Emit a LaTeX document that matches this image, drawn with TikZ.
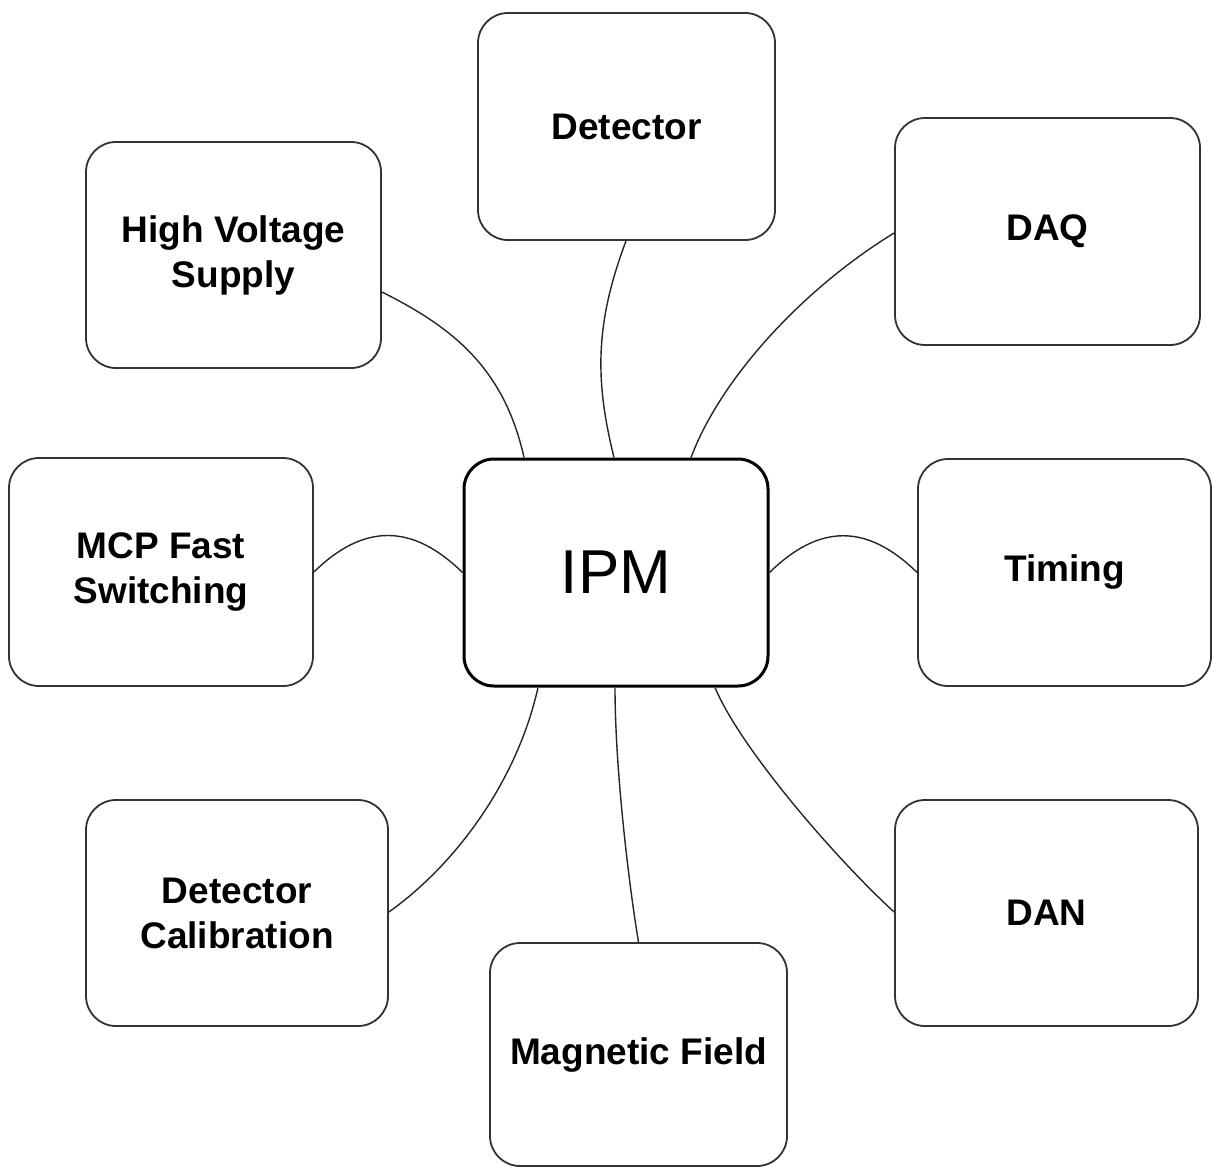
\documentclass[tikz,border=0pt]{standalone}
\usepackage{fontspec}
\setmainfont{Liberation Sans}
\begin{document}
\begin{tikzpicture}[x=1pt,y=-1pt,
  blk/.style={draw=black!80, line width=1.8pt, rounded corners=30pt, inner sep=0pt,
    align=center, fill=white, font=\bfseries\fontsize{37}{45}\selectfont},
  hub/.style={blk, draw=black, line width=3pt, font=\fontsize{62}{70}\selectfont},
  link/.style={draw=black!85, line width=1.4pt}]
\fill[white] (0,0) rectangle (1212,1167);
\useasboundingbox (0,0) rectangle (1212,1167);

\node[blk, minimum width=297pt, minimum height=227pt] (det) at (626.5,126.5) {Detector};
\node[blk, minimum width=305pt, minimum height=227pt] (daq) at (1047.5,231.5) {DAQ};
\node[blk, minimum width=295pt, minimum height=226pt] (hv) at (233.5,255) {High Voltage\\Supply};
\node[blk, minimum width=304pt, minimum height=228pt] (mcp) at (161,572) {MCP Fast\\Switching};
\node[hub, minimum width=304pt, minimum height=227pt] (ipm) at (616,572.5) {IPM};
\node[blk, minimum width=293pt, minimum height=227pt] (tim) at (1064.5,572.5) {Timing};
\node[blk, minimum width=302pt, minimum height=226pt] (cal) at (237,913) {Detector\\Calibration};
\node[blk, minimum width=303pt, minimum height=226pt] (dan) at (1046.5,913) {DAN};
\node[blk, minimum width=297pt, minimum height=223pt] (mag) at (638.5,1054.5) {Magnetic Field};

\draw[link] ([yshift=-37pt]hv.east) .. controls +(70,35) and +(-20,-90) .. ([xshift=-92pt]ipm.north);
\draw[link] ([xshift=-0.5pt]det.south) .. controls +(-30,80) and +(-20,-80) .. ([xshift=-2pt]ipm.north);
\draw[link] ([yshift=-1.5pt]daq.west) .. controls +(-90,55) and +(30,-80) .. ([xshift=75pt]ipm.north);
\draw[link] (mcp.east) .. controls +(50,-49) and +(-50,-49) .. (ipm.west);
\draw[link] (ipm.east) .. controls +(50,-49) and +(-50,-49) .. (tim.west);
\draw[link] ([xshift=-78pt]ipm.south) .. controls +(-20,90) and +(70,-50) .. ([yshift=1pt]cal.east);
\draw[link] ([xshift=-1pt]ipm.south) .. controls +(0,80) and +(-10,-60) .. (mag.north);
\draw[link] ([xshift=99pt]ipm.south) .. controls +(25,60) and +(-60,-55) .. ([yshift=1pt]dan.west);
\end{tikzpicture}
\end{document}
